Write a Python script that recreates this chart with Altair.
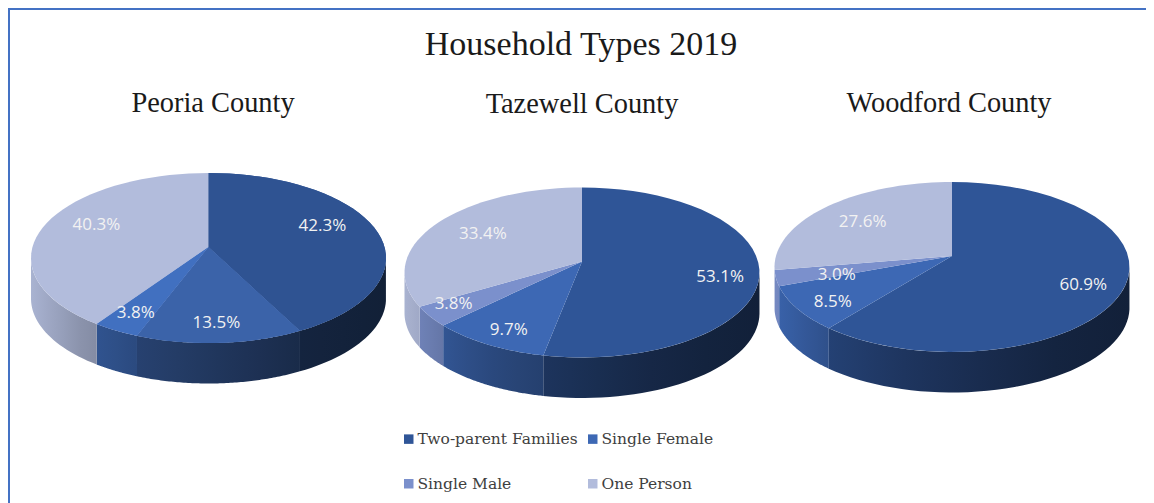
import math
import altair as alt
import pandas as pd

# ---- data
CHART_TITLE = "Household Types 2019"
COUNTIES = ["Peoria County", "Tazewell County", "Woodford County"]
SERIES = ["Two-parent Families", "Single Female", "Single Male", "One Person"]
PEORIA = [42.3, 13.5, 3.8, 40.3]
TAZEWELL = [53.1, 9.7, 3.8, 33.4]
WOODFORD = [60.9, 8.5, 3.0, 27.6]
VALUES = [PEORIA, TAZEWELL, WOODFORD]

# ---- styling and layout
LEGEND_COLORS = ["#2f5597", "#3d68b4", "#7b90cc", "#b2bcdc"]
PEORIA_COLORS = ["#2f5392", "#3b63a9", "#4170c0", "#b2bcdc"]
CENTERS = [(208.5, 258), (582, 272.5), (952, 267)]
RX, RY, DEPTH = 177.5, 85, 40.5
APEX_SHIFT = 0.13
LABEL_REACH = 0.7
LABEL_NUDGE = [
    [(-2, -7), (0, 9), (-8, 8), (1, -5)],
    [(14, 10), (-7, 10), (-22, 4), (1, 0)],
    [(10, 8), (-11, 9), (8, 4), (-3, 1)],
]
SHADE = [(0, .95), (.15, .77), (.3, .66), (.76, .43), (1, .38)]
SERIF = "Liberation Serif"
W, H = 1138, 495


def ray_reach(theta):
    dx, dy = math.sin(theta), -math.cos(theta)
    pd_ = -APEX_SHIFT * dy
    t = -pd_ + math.sqrt(pd_ ** 2 + 1 - APEX_SHIFT ** 2)
    return t, dx, dy


def rim(theta):
    t, dx, dy = ray_reach(theta)
    return t * dx, -APEX_SHIFT + t * dy


def shade_at(f):
    f = min(max(f, 0), 1)
    for (a, sa), (b, sb) in zip(SHADE, SHADE[1:]):
        if f <= b:
            return sa + (sb - sa) * (f - a) / (b - a)
    return SHADE[-1][1]


def shaded(color, f):
    s = shade_at(f)
    r, g, b = (int(color[i:i + 2], 16) for i in (1, 3, 5))
    return "#%02x%02x%02x" % (round(r * s), round(g * s), round(b * s))


top_rows, label_rows, wall_layers, patch_layers = [], [], [], []
xs = alt.Scale(domain=[8, 8 + W], range=[0, W], nice=False, zero=False)
ys = alt.Scale(domain=[8 + H, 8], range=[H, 0], nice=False, zero=False)
X = alt.X("x:Q", scale=xs, axis=None)
Y = alt.Y("y:Q", scale=ys, axis=None)

for c, (county, vals, (cx, cy)) in enumerate(zip(COUNTIES, VALUES, CENTERS)):
    total = sum(vals)
    start = 0.0
    for s, (name, v) in enumerate(zip(SERIES, vals)):
        t0 = start / total * 2 * math.pi
        t1 = (start + v) / total * 2 * math.pi
        start += v
        key = f"{c}-{s}"
        colors = PEORIA_COLORS if c == 0 else LEGEND_COLORS
        # top face
        pts = [(cx, cy - APEX_SHIFT * RY)]
        n = 40
        for i in range(n + 1):
            u, w = rim(t0 + (t1 - t0) * i / n)
            pts.append((cx + RX * u, cy + RY * w))
        pts.append(pts[0])
        rows = [dict(x=p[0], y=p[1], i=i, key=key, series=name) for i, p in enumerate(pts)]
        top_rows += rows
        # patch for Peoria's slices, which are tinted unlike the legend
        if c == 0 and colors[s] != LEGEND_COLORS[s]:
            patch_layers.append(
                alt.Chart(pd.DataFrame(rows))
                .mark_line(fill=colors[s], strokeWidth=0)
                .encode(x=X, y=Y, order=alt.Order("i:Q"))
            )
        # side wall: only where the rim faces the viewer
        arc = [rim(t0 + (t1 - t0) * i / 80) for i in range(81)]
        arc = [p for p in arc if p[1] >= 0]
        if len(arc) > 1:
            up = [(cx + RX * u, cy + RY * w) for u, w in arc]
            down = [(px, py + DEPTH) for px, py in reversed(up)]
            poly = up + down + [up[0]]
            left, right = min(p[0] for p in up), max(p[0] for p in up)
            fracs = [0, .25, .5, .75, 1]
            stops = []
            for f in fracs:
                xpos = left + (right - left) * f
                stops.append(alt.GradientStop(offset=f, color=shaded(colors[s], (xpos - cx + RX) / (2 * RX))))
            grad = alt.LinearGradient(gradient="linear", stops=stops, x1=0, x2=1, y1=0, y2=0)
            wall_layers.append(
                alt.Chart(pd.DataFrame([dict(x=p[0], y=p[1], i=i) for i, p in enumerate(poly)]))
                .mark_line(fill=grad, strokeWidth=0)
                .encode(x=X, y=Y, order=alt.Order("i:Q"))
            )
        # value label
        tm = (t0 + t1) / 2
        t, dx, dy = ray_reach(tm)
        nx, ny = LABEL_NUDGE[c][s]
        label_rows.append(dict(
            x=cx + LABEL_REACH * t * dx * RX + nx,
            y=cy - APEX_SHIFT * RY + LABEL_REACH * t * dy * RY + ny,
            text=f"{v:.1f}%",
        ))

tops = (
    alt.Chart(pd.DataFrame(top_rows))
    .mark_line(strokeWidth=0)
    .encode(
        x=X, y=Y, order=alt.Order("i:Q"), detail="key:N",
        fill=alt.Fill(
            "series:N",
            scale=alt.Scale(domain=SERIES, range=LEGEND_COLORS),
            legend=alt.Legend(
                title=None, orient="none", legendX=393, legendY=423, columns=2,
                direction="horizontal", columnPadding=7, rowPadding=28,
                symbolType="square", symbolSize=90, labelLimit=220,
                symbolStrokeWidth=0, labelFont="DejaVu Serif", labelFontSize=15.5,
                labelColor="#404040", labelOffset=1, gridAlign="each",
            ),
        ),
    )
)

labels = (
    alt.Chart(pd.DataFrame(label_rows))
    .mark_text(font="Open Sans", fontSize=17, color="#f2f2f2", align="center", baseline="middle")
    .encode(x=X, y=Y, text="text:N")
)

heads = pd.DataFrame(
    [dict(x=581, y=45, text=CHART_TITLE, size=34)]
    + [dict(x=px, y=py, text=name, size=28.4) for name, px, py in zip(COUNTIES, (213, 582, 949), (103, 104, 103))]
)
titles = (
    alt.Chart(heads)
    .mark_text(font=SERIF, color="#1a1a1a", align="center", baseline="middle")
    .encode(x=X, y=Y, text="text:N", size=alt.Size("size:Q", scale=None, legend=None))
)

frame_top = alt.Chart(pd.DataFrame({"x": [8], "x2": [8 + W], "y": [9]})).mark_rule(color="#4472c4", strokeWidth=2).encode(
    x=X, x2="x2:Q", y=Y
)
frame_left = alt.Chart(pd.DataFrame({"x": [9], "y": [9], "y2": [8 + H]})).mark_rule(color="#4472c4", strokeWidth=2).encode(
    x=X, y=Y, y2="y2:Q"
)

chart = (
    alt.layer(frame_top, frame_left, *wall_layers, tops, *patch_layers, labels, titles)
    .properties(width=W, height=H, padding=0, autosize=alt.AutoSizeParams(type="none"), background="white")
    .configure_view(stroke=None)
)
chart.save("out.html", embed_options={"renderer": "svg", "actions": False})
